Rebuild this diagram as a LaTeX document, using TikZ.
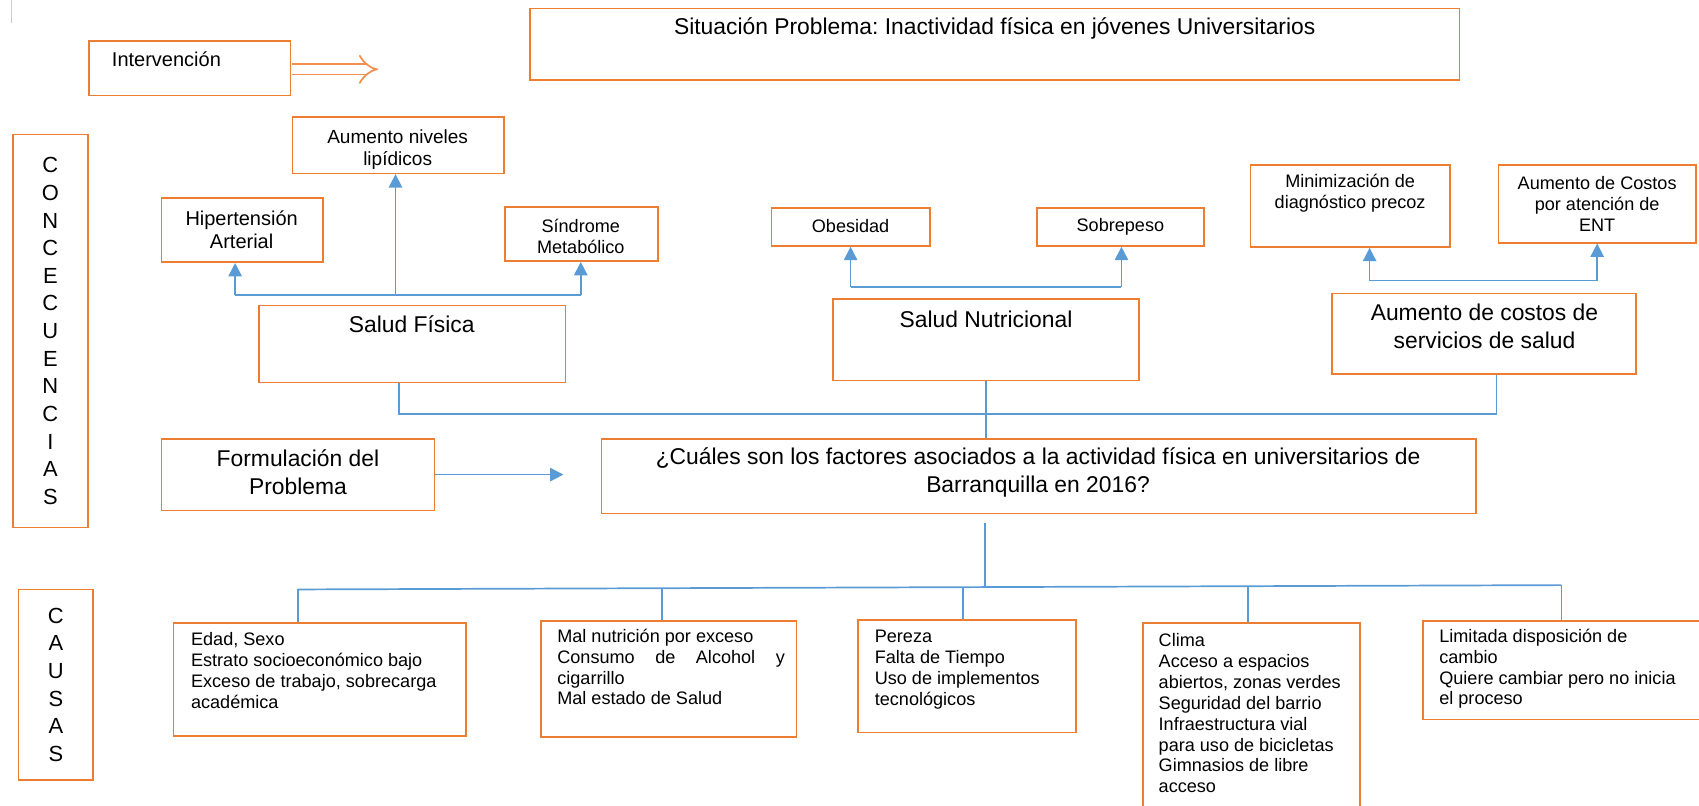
\documentclass[tikz,border=0pt]{standalone}
\usepackage{fontspec}
\setmainfont{Liberation Sans}
\frenchspacing
\usetikzlibrary{arrows.meta,fit}
\definecolor{naranja}{RGB}{237,125,49}
\definecolor{azul}{RGB}{91,155,213}
\begin{document}
\begin{tikzpicture}[x=0.2mm,y=-0.2mm,
  cuadro/.style={draw=naranja,line width=0.85pt,inner sep=0pt},
  linea/.style={draw=azul,line width=0.9pt},
  flecha/.style={linea,-{Triangle[width=7pt,length=7pt]}},
  hueca/.style={draw=naranja!85,line width=0.9pt,double=white,double distance=4.5pt,-{Implies}},
  txt/.style={inner sep=0pt,align=center,font=\fontsize{9.5}{11}\selectfont},
  medio/.style={txt,font=\fontsize{10.5}{12.5}\selectfont},
  grande/.style={inner sep=0pt,align=center,font=\fontsize{12}{14.8}\selectfont},
  lista/.style={txt,align=left,anchor=north west},
  vertical/.style={inner sep=0pt,align=center,font=\fontsize{11.5}{14.5}\selectfont}]
\clip (0,0) rectangle (1568,743);
\draw[black!20,line width=0.6pt] (11,0) -- (11,21);

% encabezado
\node[cuadro,fit={(489,8) (1347,74)}] (titulo) {};
\node[grande] (titulo-t) at (918,26) {Situación Problema: Inactividad física en jóvenes Universitarios};
\node[cuadro,fit={(82,38) (268,88)}] (interv) {};
\node[medio,anchor=west] (interv-t) at (103,55) {Intervención};
\coordinate (interv-p) at (349,64);
\draw[hueca] ([xshift=0.6pt]interv.east |- interv-p) -- (interv-p);

% consecuencias
\node[cuadro,fit={(12,124) (81,487)}] (conse) {};
\node[vertical] (conse-t) at (conse) {C\\O\\N\\C\\E\\C\\U\\E\\N\\C\\I\\A\\S};

\node[cuadro,fit={(270,108) (465,160)}] (lip) {};
\node[txt,font=\fontsize{10}{11.5}\selectfont] (lip-t) at (367,138) {Aumento niveles\\lipídicos};
\node[cuadro,fit={(149,183) (298,242)}] (hip) {};
\node[medio] (hip-t) at (223,212) {Hipertensión\\Arterial};
\node[cuadro,fit={(466,191) (607,241)}] (sind) {};
\node[txt] (sind-t) at (536,218) {Síndrome\\Metabólico};
\node[cuadro,fit={(239,282) (522,353)}] (sfis) {};
\node[grande] (sfis-t) at (380,299) {Salud Física};

\node[cuadro,fit={(712,192) (858,227)}] (obes) {};
\node[txt] (obes-t) at (785,209) {Obesidad};
\node[cuadro,fit={(957,192) (1111,227)}] (sobre) {};
\node[txt] (sobre-t) at (1034,209) {Sobrepeso};
\node[cuadro,fit={(769,276) (1051,351)}] (snut) {};
\node[grande] (snut-t) at (910,295) {Salud Nutricional};

\node[cuadro,fit={(1154,152) (1338,228)}] (mini) {};
\node[txt] (mini-t) at (1246,178) {Minimización de\\diagnóstico precoz};
\node[cuadro,fit={(1383,152) (1565,224)}] (ent) {};
\node[txt] (ent-t) at (1474,188) {Aumento de Costos\\por atención de\\ENT};
\node[cuadro,fit={(1229,271) (1510,345)}] (serv) {};
\node[grande] (serv-t) at (1370,301) {Aumento de costos de\\servicios de salud};

\coordinate (sf-izq) at (217,272);
\coordinate (sf-med) at (365,272);
\coordinate (sf-der) at (536,272);
\draw[linea] (sf-izq) -- (sf-der);
\draw[flecha] (sf-izq) -- (sf-izq |- hip.south);
\draw[flecha] (sf-med) -- (sf-med |- lip.south);
\draw[flecha] (sf-der) -- (sf-der |- sind.south);

\coordinate (sn-izq) at (785,265);
\coordinate (sn-der) at (1035,265);
\draw[linea] (sn-izq) -- (sn-der);
\draw[flecha] (sn-izq) -- (sn-izq |- obes.south);
\draw[flecha] (sn-der) -- (sn-der |- sobre.south);

\coordinate (sv-izq) at (1264,259);
\coordinate (sv-der) at (1474,259);
\draw[linea] (sv-izq) -- (sv-der);
\draw[flecha] (sv-izq) -- (sv-izq |- mini.south);
\draw[flecha] (sv-der) -- (sv-der |- ent.south);

% problema
\node[cuadro,fit={(149,405) (401,471)}] (form) {};
\node[grande] (form-t) at (275,436) {Formulación del\\Problema};
\node[cuadro,fit={(555,405) (1362,474)}] (preg) {};
\node[grande] (preg-t) at (958,436) {¿Cuáles son los factores asociados a la actividad física en universitarios de\\Barranquilla en 2016?};
\coordinate (form-p) at (520,438);
\draw[flecha] (form.east |- form-p) -- (form-p);

\coordinate (cons-izq) at (368,382);
\coordinate (cons-der) at (1381,382);
\draw[linea] (cons-izq |- sfis.south) -- (cons-izq) -- (cons-der) -- (cons-der |- serv.south);
\draw[linea] (snut.south) -- (snut.south |- preg.north);

% causas
\node[cuadro,fit={(17,544) (86,720)}] (causas) {};
\node[vertical] (causas-t) at (causas) {C\\A\\U\\S\\A\\S};

\node[cuadro,fit={(160,575) (430,679)}] (c1) {};
\node[lista] (c1-t) at (176,583) {Edad, Sexo\\Estrato socioeconómico bajo\\Exceso de trabajo, sobrecarga\\académica};
\node[cuadro,fit={(499,573) (735,680)}] (c2) {};
\node[lista] (c2-t) at (514,580) {Mal nutrición por exceso\\\makebox[42mm][s]{Consumo de Alcohol y}\\cigarrillo\\Mal estado de Salud};
\node[cuadro,fit={(792,572) (993,676)}] (c3) {};
\node[lista] (c3-t) at (807,581) {Pereza\\Falta de Tiempo\\Uso de implementos\\tecnológicos};
\node[cuadro,fit={(1055,575) (1255,770)}] (c4) {};
\node[lista] (c4-t) at (1069,584) {Clima\\Acceso a espacios\\abiertos, zonas verdes\\Seguridad del barrio\\Infraestructura vial\\para uso de bicicletas\\Gimnasios de libre\\acceso};
\node[cuadro,fit={(1313,573) (1590,664)}] (c5) {};
\node[lista] (c5-t) at (1328,580) {Limitada disposición de\\cambio\\Quiere cambiar pero no inicia\\el proceso};

\coordinate (barra) at (909,542);
\draw[linea] ([yshift=-1.6mm]preg.south -| barra) -- (barra);
\coordinate (d1) at (275,544);
\coordinate (d2) at (611,543);
\coordinate (d3) at (889,542);
\coordinate (d4) at (1152,541);
\coordinate (d5) at (1441,540);
\draw[linea] (d1) -- (d5);
\draw[linea] (d1) -- (d1 |- c1.north);
\draw[linea] (d2) -- (d2 |- c2.north);
\draw[linea] (d3) -- (d3 |- c3.north);
\draw[linea] (d4) -- (d4 |- c4.north);
\draw[linea] (d5) -- (d5 |- c5.north);
\end{tikzpicture}
\end{document}
